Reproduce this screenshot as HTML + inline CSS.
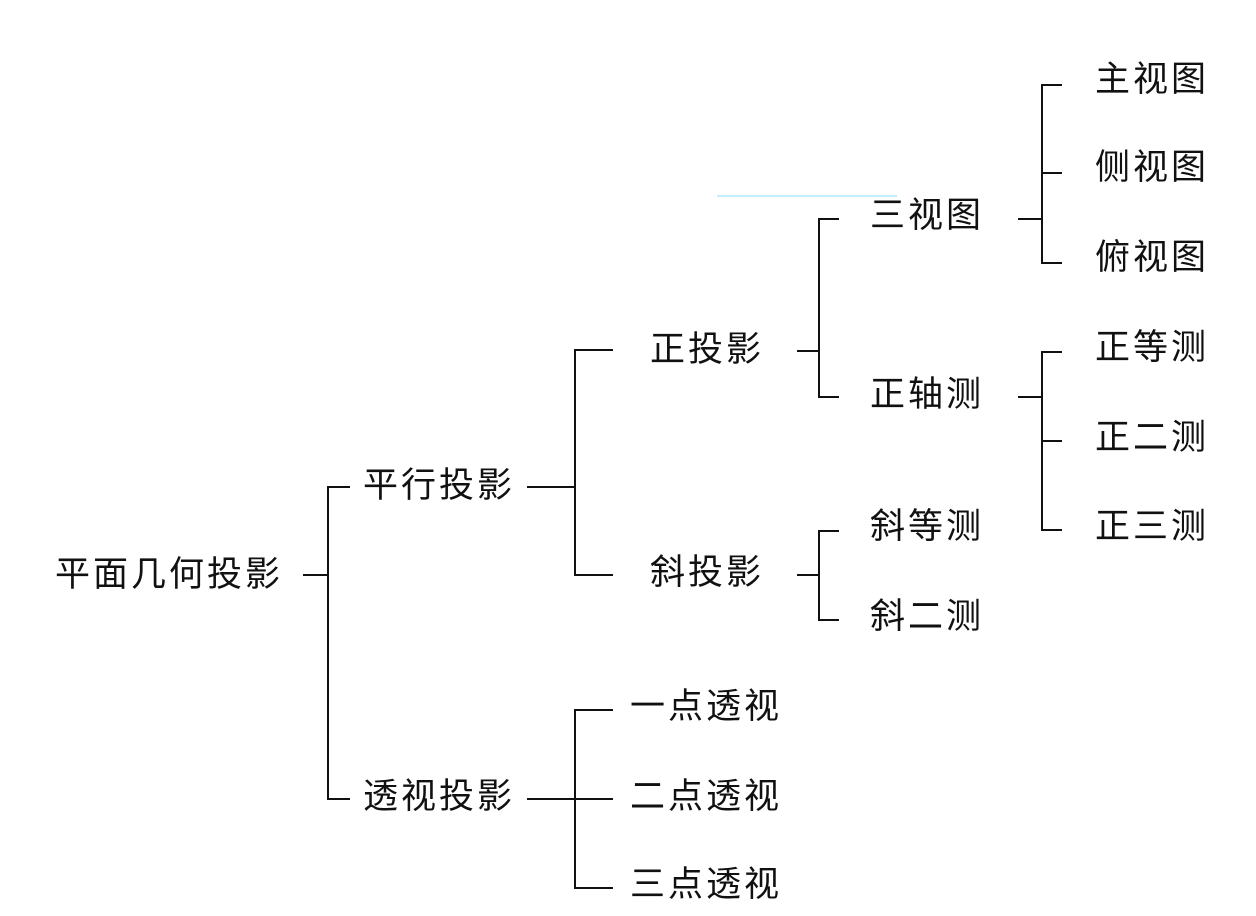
<!DOCTYPE html>
<html><head><meta charset="utf-8"><style>
body{margin:0;width:1256px;height:916px;background:#fff;position:relative;overflow:hidden;font-family:"Liberation Sans","Noto Sans CJK SC",sans-serif}
.t{position:absolute;font-size:35px;line-height:40px;color:#111;white-space:nowrap;letter-spacing:3px}
.h,.v{position:absolute;background:#111}
.h{height:2px}.v{width:2px}
</style></head><body>
<div style="position:absolute;left:717px;top:195px;width:180px;height:2px;background:#bff0fa"></div>

<div class="t" style="left:55px;top:555px">平面几何投影</div>
<div class="h" style="left:303px;top:574px;width:25px"></div>
<div class="v" style="left:327px;top:486px;height:314px"></div>
<div class="h" style="left:327px;top:486px;width:23px"></div>
<div class="h" style="left:327px;top:798px;width:23px"></div>

<div class="t" style="left:363px;top:466px">平行投影</div>
<div class="h" style="left:527px;top:486px;width:49px"></div>
<div class="v" style="left:574px;top:349px;height:227px"></div>
<div class="h" style="left:574px;top:349px;width:39px"></div>
<div class="h" style="left:574px;top:574px;width:39px"></div>

<div class="t" style="left:650px;top:330px">正投影</div>
<div class="h" style="left:797px;top:350px;width:22px"></div>
<div class="v" style="left:818px;top:218px;height:180px"></div>
<div class="h" style="left:818px;top:218px;width:21px"></div>
<div class="h" style="left:818px;top:396px;width:21px"></div>

<div class="t" style="left:870px;top:196px">三视图</div>
<div class="h" style="left:1018px;top:218px;width:25px"></div>
<div class="v" style="left:1041px;top:84px;height:180px"></div>
<div class="h" style="left:1041px;top:84px;width:21px"></div>
<div class="h" style="left:1041px;top:172px;width:21px"></div>
<div class="h" style="left:1041px;top:262px;width:21px"></div>

<div class="t" style="left:870px;top:375px">正轴测</div>
<div class="h" style="left:1018px;top:396px;width:25px"></div>
<div class="v" style="left:1041px;top:351px;height:180px"></div>
<div class="h" style="left:1041px;top:351px;width:21px"></div>
<div class="h" style="left:1041px;top:440px;width:21px"></div>
<div class="h" style="left:1041px;top:529px;width:21px"></div>

<div class="t" style="left:1095px;top:60px">主视图</div>
<div class="t" style="left:1095px;top:148px">侧视图</div>
<div class="t" style="left:1095px;top:238px">俯视图</div>
<div class="t" style="left:1095px;top:328px">正等测</div>
<div class="t" style="left:1095px;top:418px">正二测</div>
<div class="t" style="left:1095px;top:507px">正三测</div>

<div class="t" style="left:650px;top:553px">斜投影</div>
<div class="h" style="left:797px;top:574px;width:22px"></div>
<div class="v" style="left:818px;top:530px;height:91px"></div>
<div class="h" style="left:818px;top:530px;width:21px"></div>
<div class="h" style="left:818px;top:619px;width:21px"></div>
<div class="t" style="left:870px;top:507px">斜等测</div>
<div class="t" style="left:870px;top:597px">斜二测</div>

<div class="t" style="left:363px;top:777px">透视投影</div>
<div class="h" style="left:527px;top:798px;width:86px"></div>
<div class="v" style="left:574px;top:709px;height:180px"></div>
<div class="h" style="left:574px;top:709px;width:39px"></div>
<div class="h" style="left:574px;top:887px;width:39px"></div>
<div class="t" style="left:630px;top:687px">一点透视</div>
<div class="t" style="left:630px;top:777px">二点透视</div>
<div class="t" style="left:630px;top:865px">三点透视</div>
</body></html>
